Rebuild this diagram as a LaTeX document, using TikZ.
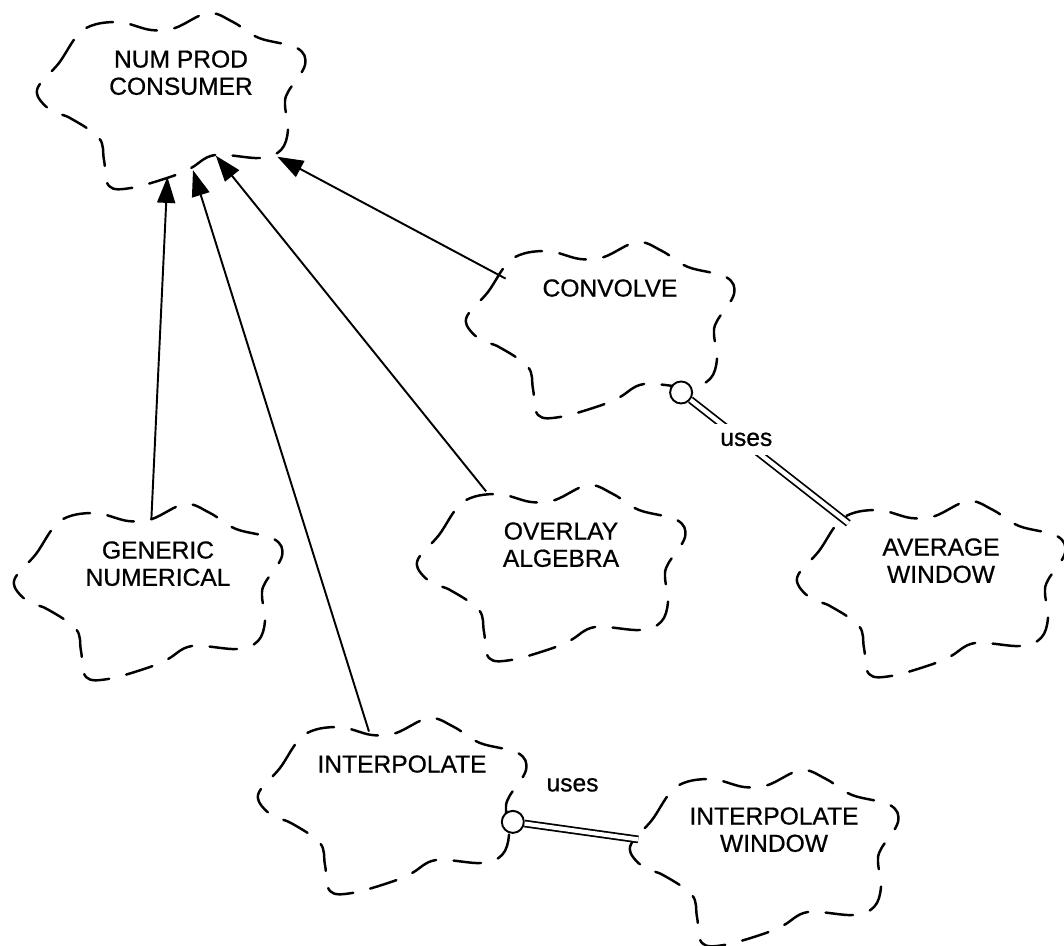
\documentclass[tikz,border=0pt]{standalone}
\usepackage{fontspec}
\setmainfont{Liberation Sans}
\newfontfamily\classfont{Liberation Sans}[FakeBold=0.7]
\usetikzlibrary{arrows.meta,positioning,calc}

\tikzset{
  cloudline/.style={line width=1.4pt,dash pattern=on 0.55cm off 0.35cm,line cap=round},
  classname/.style={font=\classfont\fontsize{14}{15.5}\selectfont,align=center,anchor=north,inner sep=0pt},
  % dashed class cloud, text in its upper half
  pics/classcloud/.style={code={
    \draw[cloudline] plot[smooth cycle,tension=0.6] coordinates {
      (-2.68,0.20) (-2.24,0.74) (-1.76,1.40) (-1.08,1.56) (-0.40,1.40)
      (0.08,1.44) (0.74,1.74) (1.24,1.56) (1.76,1.24) (2.52,1.04)
      (2.68,0.70) (2.34,0.16) (2.28,-0.10) (2.34,-0.60) (2.20,-1.00)
      (1.78,-1.16) (0.88,-1.10) (0.40,-1.36) (-0.02,-1.54) (-0.80,-1.76)
      (-1.24,-1.72) (-1.34,-1.20) (-1.44,-0.76) (-2.02,-0.36) (-2.42,-0.20)};
    \node[classname] at (0.2,1.0) {#1};
  }},
  inherits/.style={line width=1.1pt,-{Triangle[length=0.52cm,width=0.36cm]}},
  uses/.style={double,double distance=2.4pt,line width=1pt},
  usesdot/.style={circle,draw,line width=1.1pt,minimum size=0.44cm,inner sep=0pt,fill=white},
  useslabel/.style={font=\classfont\fontsize{14}{16}\selectfont,inner sep=1pt}
}

\begin{document}
\begin{tikzpicture}
\useasboundingbox (0,0) rectangle (21.28,18.9);

% class centres
\coordinate (npc) at (3.42,16.90);
\coordinate (conv) at (12.00,12.32);
\coordinate (avgwin) at (18.62,7.14);
\coordinate (gen) at (2.96,7.08);
\coordinate (overlay) at (11.02,7.46);
\coordinate (interp) at (7.84,2.80);
\coordinate (intwin) at (15.28,1.76);

\pic at (npc) {classcloud={NUM PROD\\CONSUMER}};
\pic at (conv) {classcloud={CONVOLVE}};
\pic at (avgwin) {classcloud={AVERAGE\\WINDOW}};
\pic at (gen) {classcloud={GENERIC\\NUMERICAL}};
\pic at (overlay) {classcloud={OVERLAY\\ALGEBRA}};
\pic at (interp) {classcloud={INTERPOLATE}};
\pic at (intwin) {classcloud={INTERPOLATE\\WINDOW}};

% inheritance
\draw[inherits,shorten <=1.42cm,shorten >=1.54cm] (gen) -- (npc);
\draw[inherits,shorten <=1.54cm,shorten >=1.47cm] (interp) -- (npc);
\draw[inherits,shorten <=2.07cm,shorten >=1.43cm] (overlay) -- (npc);
\draw[inherits,shorten <=2.14cm,shorten >=2.41cm] (conv) -- (npc);

% uses
\node[usesdot] (convdot) at ($(conv)!2.06cm!(avgwin)$) {};
\draw[uses,shorten >=2.1cm] (convdot) -- node[useslabel,fill=white,inner sep=5pt,pos=0.21,xshift=3pt] {uses} (avgwin);

\node[usesdot] (interpdot) at ($(interp)!2.44cm!(intwin)$) {};
\draw[uses,shorten >=2.54cm] (interpdot) -- node[useslabel,pos=0.2,above=0.72cm] {uses} (intwin);

\end{tikzpicture}
\end{document}
